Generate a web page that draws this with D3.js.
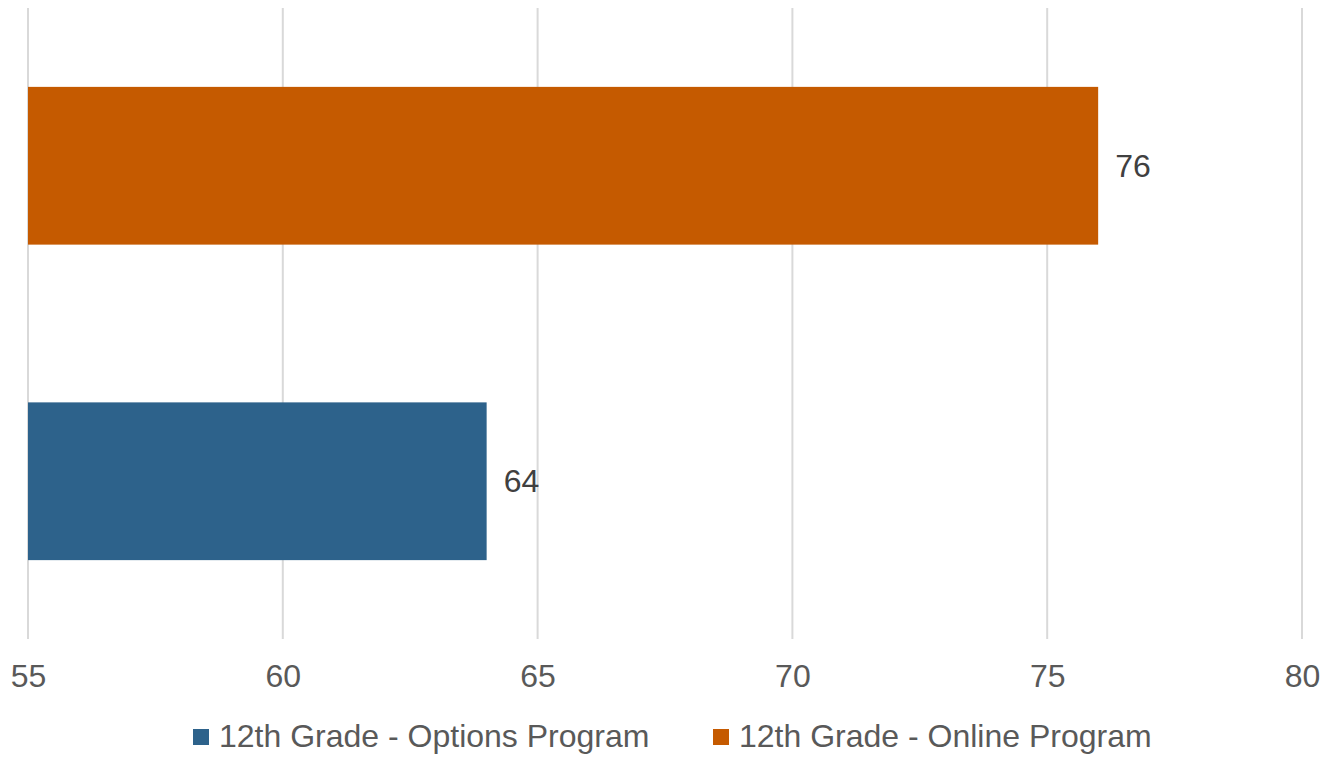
<!DOCTYPE html>
<html>
<head>
<meta charset="utf-8">
<script src="https://cdn.jsdelivr.net/npm/d3@7"></script>
<style>
  body { margin: 0; background: #fff; }
  text { font-family: "Liberation Sans", Arial, sans-serif; }
</style>
</head>
<body>
<div id="chart"></div>
<script>
// series, bottom to top as drawn
var categories = ["12th Grade - Options Program", "12th Grade - Online Program"];
var values = [64, 76];
var colors = ["#2d628b", "#c55a00"];
var ticks = [55, 60, 65, 70, 75, 80];

var width = 1330, height = 757;
var textColor = "#595959";
var fontSize = 32;

var svg = d3.select("#chart").append("svg")
    .attr("width", width)
    .attr("height", height);

var x = d3.scaleLinear()
    .domain([55, 80])
    .range([28, 1302]);

// top category drawn first
var y = d3.scaleBand()
    .domain(categories.slice().reverse())
    .range([8, 639])
    .paddingInner(0.5)
    .paddingOuter(0.25);

// gridlines
svg.append("g")
    .selectAll("line")
    .data(ticks)
    .enter()
    .append("line")
    .attr("x1", function(d) { return x(d); })
    .attr("x2", function(d) { return x(d); })
    .attr("y1", 8)
    .attr("y2", 639)
    .attr("stroke", "#d9d9d9")
    .attr("stroke-width", 2);

// tick labels
var xAxis = svg.append("g")
    .attr("transform", "translate(0,639)")
    .call(d3.axisBottom(x).tickValues(ticks).tickSize(0).tickPadding(0));
xAxis.select(".domain").remove();
xAxis.selectAll("text")
    .attr("y", 48)
    .attr("dy", 0)
    .attr("font-size", fontSize)
    .attr("fill", textColor);

var data = categories.map(function(c, i) {
    return { name: c, value: values[i], color: colors[i] };
});

svg.append("g")
    .selectAll("rect")
    .data(data)
    .enter()
    .append("rect")
    .attr("x", x(55))
    .attr("y", function(d) { return y(d.name); })
    .attr("width", function(d) { return x(d.value) - x(55); })
    .attr("height", y.bandwidth())
    .attr("fill", function(d) { return d.color; });

svg.append("g")
    .selectAll("text")
    .data(data)
    .enter()
    .append("text")
    .attr("x", function(d) { return x(d.value) + 17; })
    .attr("y", function(d) { return y(d.name) + y.bandwidth() / 2 + 11; })
    .attr("font-size", fontSize)
    .attr("fill", "#404040")
    .text(function(d) { return d.value; });

// legend
var legendX = [193, 713];
var legend = svg.append("g")
    .selectAll("g")
    .data(data)
    .enter()
    .append("g")
    .attr("transform", function(d, i) { return "translate(" + legendX[i] + ",729)"; });

legend.append("rect")
    .attr("width", 16)
    .attr("height", 16)
    .attr("fill", function(d) { return d.color; });

legend.append("text")
    .attr("x", 26)
    .attr("y", 18)
    .attr("font-size", fontSize)
    .attr("fill", textColor)
    .text(function(d) { return d.name; });
</script>
</body>
</html>
